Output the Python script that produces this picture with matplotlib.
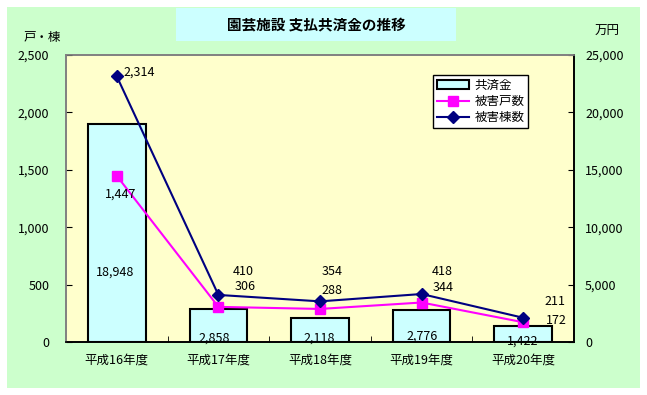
import matplotlib
matplotlib.use("Agg")
import matplotlib.pyplot as plt
from matplotlib.patches import Rectangle, Patch
from matplotlib.lines import Line2D
from matplotlib.ticker import FuncFormatter

plt.rcParams['font.family'] = ['Noto Sans CJK JP', 'DejaVu Sans']

categories = ["平成16年度", "平成17年度", "平成18年度", "平成19年度", "平成20年度"]
payout = [18948, 2858, 2118, 2776, 1422]          # 共済金 (万円)
households = [1447, 306, 288, 344, 172]           # 被害戸数
buildings = [2314, 410, 354, 418, 211]            # 被害棟数

W, H = 647, 395
fig = plt.figure(figsize=(W / 100, H / 100), dpi=100)
fig.patch.set_facecolor("white")

# green chart area
fig.patches.append(Rectangle((7 / W, 1 - 388 / H), 633 / W, 381 / H,
                             transform=fig.transFigure, facecolor="#CCFFCC",
                             edgecolor="none", zorder=-10))
# title box
fig.patches.append(Rectangle((176 / W, 1 - 41 / H), 280 / W, 33 / H,
                             transform=fig.transFigure, facecolor="#CCFFFF",
                             edgecolor="none", zorder=-5))
fig.text(316 / W, 1 - 24.5 / H, "園芸施設 支払共済金の推移", ha="center", va="center",
         fontsize=10.5, fontweight="bold")

ax = fig.add_axes([66 / W, 1 - 342 / H, 508 / W, 287 / H])
ax2 = ax.twinx()
ax.set_zorder(ax2.get_zorder() + 1)
ax.patch.set_visible(False)
ax2.patch.set_facecolor("#FFFFCC")
ax2.patch.set_visible(True)

x = list(range(len(categories)))
ax2.bar(x, payout, width=0.565, color="#CCFFFF", edgecolor="black", linewidth=1.5, zorder=2)
ax2.set_ylim(0, 25000)
ax2.set_yticks(range(0, 25001, 5000))

ax.plot(x, households, color="#FF00FF", marker="s", markersize=7, linewidth=1.5, zorder=3)
ax.plot(x, buildings, color="#000080", marker="D", markersize=6, linewidth=1.5, zorder=4)
ax.set_ylim(0, 2500)
ax.set_yticks(range(0, 2501, 500))
ax.set_xlim(-0.5, len(categories) - 0.5)
ax.set_xticks(x)
ax.set_xticklabels(categories)
ax.set_xticks([i + 0.5 for i in range(len(categories) - 1)], minor=True)

fmt = FuncFormatter(lambda v, p: f"{int(v):,}")
ax.yaxis.set_major_formatter(fmt)
ax2.yaxis.set_major_formatter(fmt)

ax.tick_params(axis="y", direction="in", length=4, labelsize=9, pad=12)
ax2.tick_params(axis="y", direction="in", length=4, labelsize=9, pad=8)
ax.tick_params(axis="x", which="major", length=0, labelsize=9, pad=8)
ax.tick_params(axis="x", which="minor", direction="in", length=4)

for a in (ax, ax2):
    a.spines["top"].set_color("#808080")
    a.spines["left"].set_color("#808080")
    a.spines["right"].set_color("black")
    a.spines["bottom"].set_color("black")
    for s in a.spines.values():
        s.set_linewidth(1.2)

# data labels (offsets in pixels)
b_off = [(22, 4), (25, 23), (12, 30), (21, 23), (32, 16)]
h_off = [(4, -18), (27, 20), (12, 18), (22, 15), (33, 2)]
p_off = [(-2, 70), (-4, 4), (-1, 4), (1, 6), (-1, 1)]
for i in x:
    ax.annotate(f"{buildings[i]:,}", (i, buildings[i]), xytext=b_off[i],
                textcoords="offset pixels", ha="center", va="center", fontsize=9, zorder=6)
    ax.annotate(f"{households[i]:,}", (i, households[i]), xytext=h_off[i],
                textcoords="offset pixels", ha="center", va="center", fontsize=9, zorder=6)
    ax.annotate(f"{payout[i]:,}", (i, 0), xytext=p_off[i],
                textcoords="offset pixels", ha="center", va="center", fontsize=9, zorder=5)

fig.text(42 / W, 1 - 38 / H, "戸・棟", ha="center", va="center", fontsize=9)
fig.text(607 / W, 1 - 31 / H, "万円", ha="center", va="center", fontsize=9)

handles = [Patch(facecolor="#CCFFFF", edgecolor="black", linewidth=1.5),
           Line2D([], [], color="#FF00FF", marker="s", markersize=7, linewidth=1.5),
           Line2D([], [], color="#000080", marker="D", markersize=6, linewidth=1.5)]
leg = fig.legend(handles, ["共済金", "被害戸数", "被害棟数"], loc="upper left",
                 bbox_to_anchor=(433 / W, 1 - 75 / H), fontsize=9, frameon=True,
                 fancybox=False, edgecolor="black", facecolor="white", framealpha=1,
                 handlelength=2.6, borderpad=0.3, labelspacing=0.25, handletextpad=0.4,
                 borderaxespad=0)
leg.get_frame().set_linewidth(1.0)
leg.set_zorder(10)

fig.savefig("out.png", dpi=100)
